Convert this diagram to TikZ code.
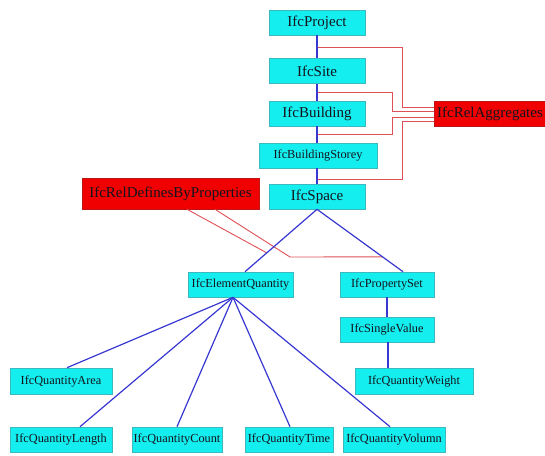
\documentclass[tikz,border=0pt]{standalone}
\usepackage{fontspec}
\setmainfont{Liberation Serif}
\usetikzlibrary{calc}
\definecolor{boxfill}{RGB}{20,238,238}
\definecolor{boxedge}{RGB}{60,185,190}
\definecolor{relfill}{RGB}{240,0,0}
\definecolor{reledge}{RGB}{190,20,20}
\definecolor{relline}{RGB}{222,80,85}
\definecolor{linkline}{RGB}{55,55,210}
\definecolor{txt}{RGB}{20,20,30}
\tikzset{
  ifcbox/.style={draw=boxedge, fill=boxfill, line width=0.6pt, inner sep=0pt,
    text=txt, font=\fontsize{12.3}{14}\selectfont},
  bigbox/.style={ifcbox, font=\fontsize{15}{17}\selectfont},
  relbox/.style={draw=reledge, fill=relfill, line width=0.6pt, inner sep=0pt,
    text=txt, font=\fontsize{15}{17}\selectfont},
  link/.style={draw=linkline, line width=1.2pt},
  relink/.style={draw=relline, line width=0.9pt}
}
\begin{document}
\begin{tikzpicture}[x=1pt,y=-1pt]
\useasboundingbox (0,0) rectangle (545,455);
% top chain
\node[bigbox, minimum width=96pt, minimum height=25pt] (project) at (317,22.5) {IfcProject};
\node[bigbox, minimum width=96pt, minimum height=25pt] (site) at (317,71) {IfcSite};
\node[bigbox, minimum width=96pt, minimum height=25pt] (building) at (317,113.5) {IfcBuilding};
\node[ifcbox, minimum width=118pt, minimum height=25pt] (storey) at (318,155.5) {IfcBuildingStorey};
\node[bigbox, minimum width=96pt, minimum height=25pt] (space) at (317,196.5) {IfcSpace};
% relation boxes
\node[relbox, minimum width=112pt, minimum height=25pt] (relagg) at (490,113.5) {IfcRelAggregates};
\node[relbox, minimum width=177pt, minimum height=31pt] (reldef) at (170.5,193.5) {IfcRelDefinesByProperties};
% lower level
\node[ifcbox, minimum width=105pt, minimum height=25pt] (eq) at (240.5,284.5) {IfcElementQuantity};
\node[ifcbox, minimum width=94pt, minimum height=25pt] (pset) at (387,284.5) {IfcPropertySet};
\node[ifcbox, minimum width=94pt, minimum height=25pt] (single) at (387,329.5) {IfcSingleValue};
\node[ifcbox, minimum width=118pt, minimum height=26pt] (weight) at (414,381) {IfcQuantityWeight};
\node[ifcbox, minimum width=102pt, minimum height=26pt] (area) at (61,381) {IfcQuantityArea};
\node[ifcbox, minimum width=102pt, minimum height=25pt] (length) at (61,439.5) {IfcQuantityLength};
\node[ifcbox, minimum width=90pt, minimum height=25pt] (count) at (177,439.5) {IfcQuantityCount};
\node[ifcbox, minimum width=88pt, minimum height=25pt] (time) at (289,439.5) {IfcQuantityTime};
\node[ifcbox, minimum width=102pt, minimum height=25pt] (volumn) at (394,439.5) {IfcQuantityVolumn};

% named points on the chain for the aggregation lines
\coordinate (a1) at (317,47);
\coordinate (a2) at (317,92);
\coordinate (a3) at (317,134.5);
\coordinate (a4) at (317,179);
% red aggregation lines
\draw[relink] (a1) -- (402,47) |- ([yshift=6.5pt]relagg.west);
\draw[relink] (a2) -- (392,92) |- ([yshift=2.5pt]relagg.west);
\draw[relink] (a3) -- (392,134.5) |- ([yshift=-3.5pt]relagg.west);
\draw[relink] (a4) -- (402,179) |- ([yshift=-7.5pt]relagg.west);

% points on the space links where the property-definition lines end
\path (space.south) -- ([xshift=4.5pt]eq.north) coordinate[pos=0.698] (m1);
\path (space.south) -- ([xshift=16pt]pset.north) coordinate[pos=0.762] (m2);
% red define-by-properties lines
\draw[relink] ([xshift=16.5pt]reldef.south) -- (m1);
\draw[relink] ([xshift=44.5pt]reldef.south) -- (290,257) -- (m2);

% blue links, top chain
\draw[link] (project.south) -- (site.north);
\draw[link] (site.south) -- (building.north);
\draw[link] (building.south) -- (building.south |- storey.north);
\draw[link] (building.south |- storey.south) -- (space.north);

% space to quantity / property set
\draw[link] (space.south) -- ([xshift=4.5pt]eq.north);
\draw[link] (space.south) -- ([xshift=16pt]pset.north);

% property set chain
\draw[link] (pset.south) -- (single.north);
\draw[link] ([xshift=1pt]single.south) -- ([xshift=1pt]single.south |- weight.north);

% element quantity fan
\coordinate (eqb) at ([xshift=-7.5pt]eq.south);
\draw[link] (eqb) -- ([xshift=6pt]area.north);
\draw[link] (eqb) -- ([xshift=19pt]length.north);
\draw[link] (eqb) -- (count.north);
\draw[link] (eqb) -- ([xshift=1pt]time.north);
\draw[link] (eqb) -- ([xshift=-4pt]volumn.north);
\end{tikzpicture}
\end{document}
